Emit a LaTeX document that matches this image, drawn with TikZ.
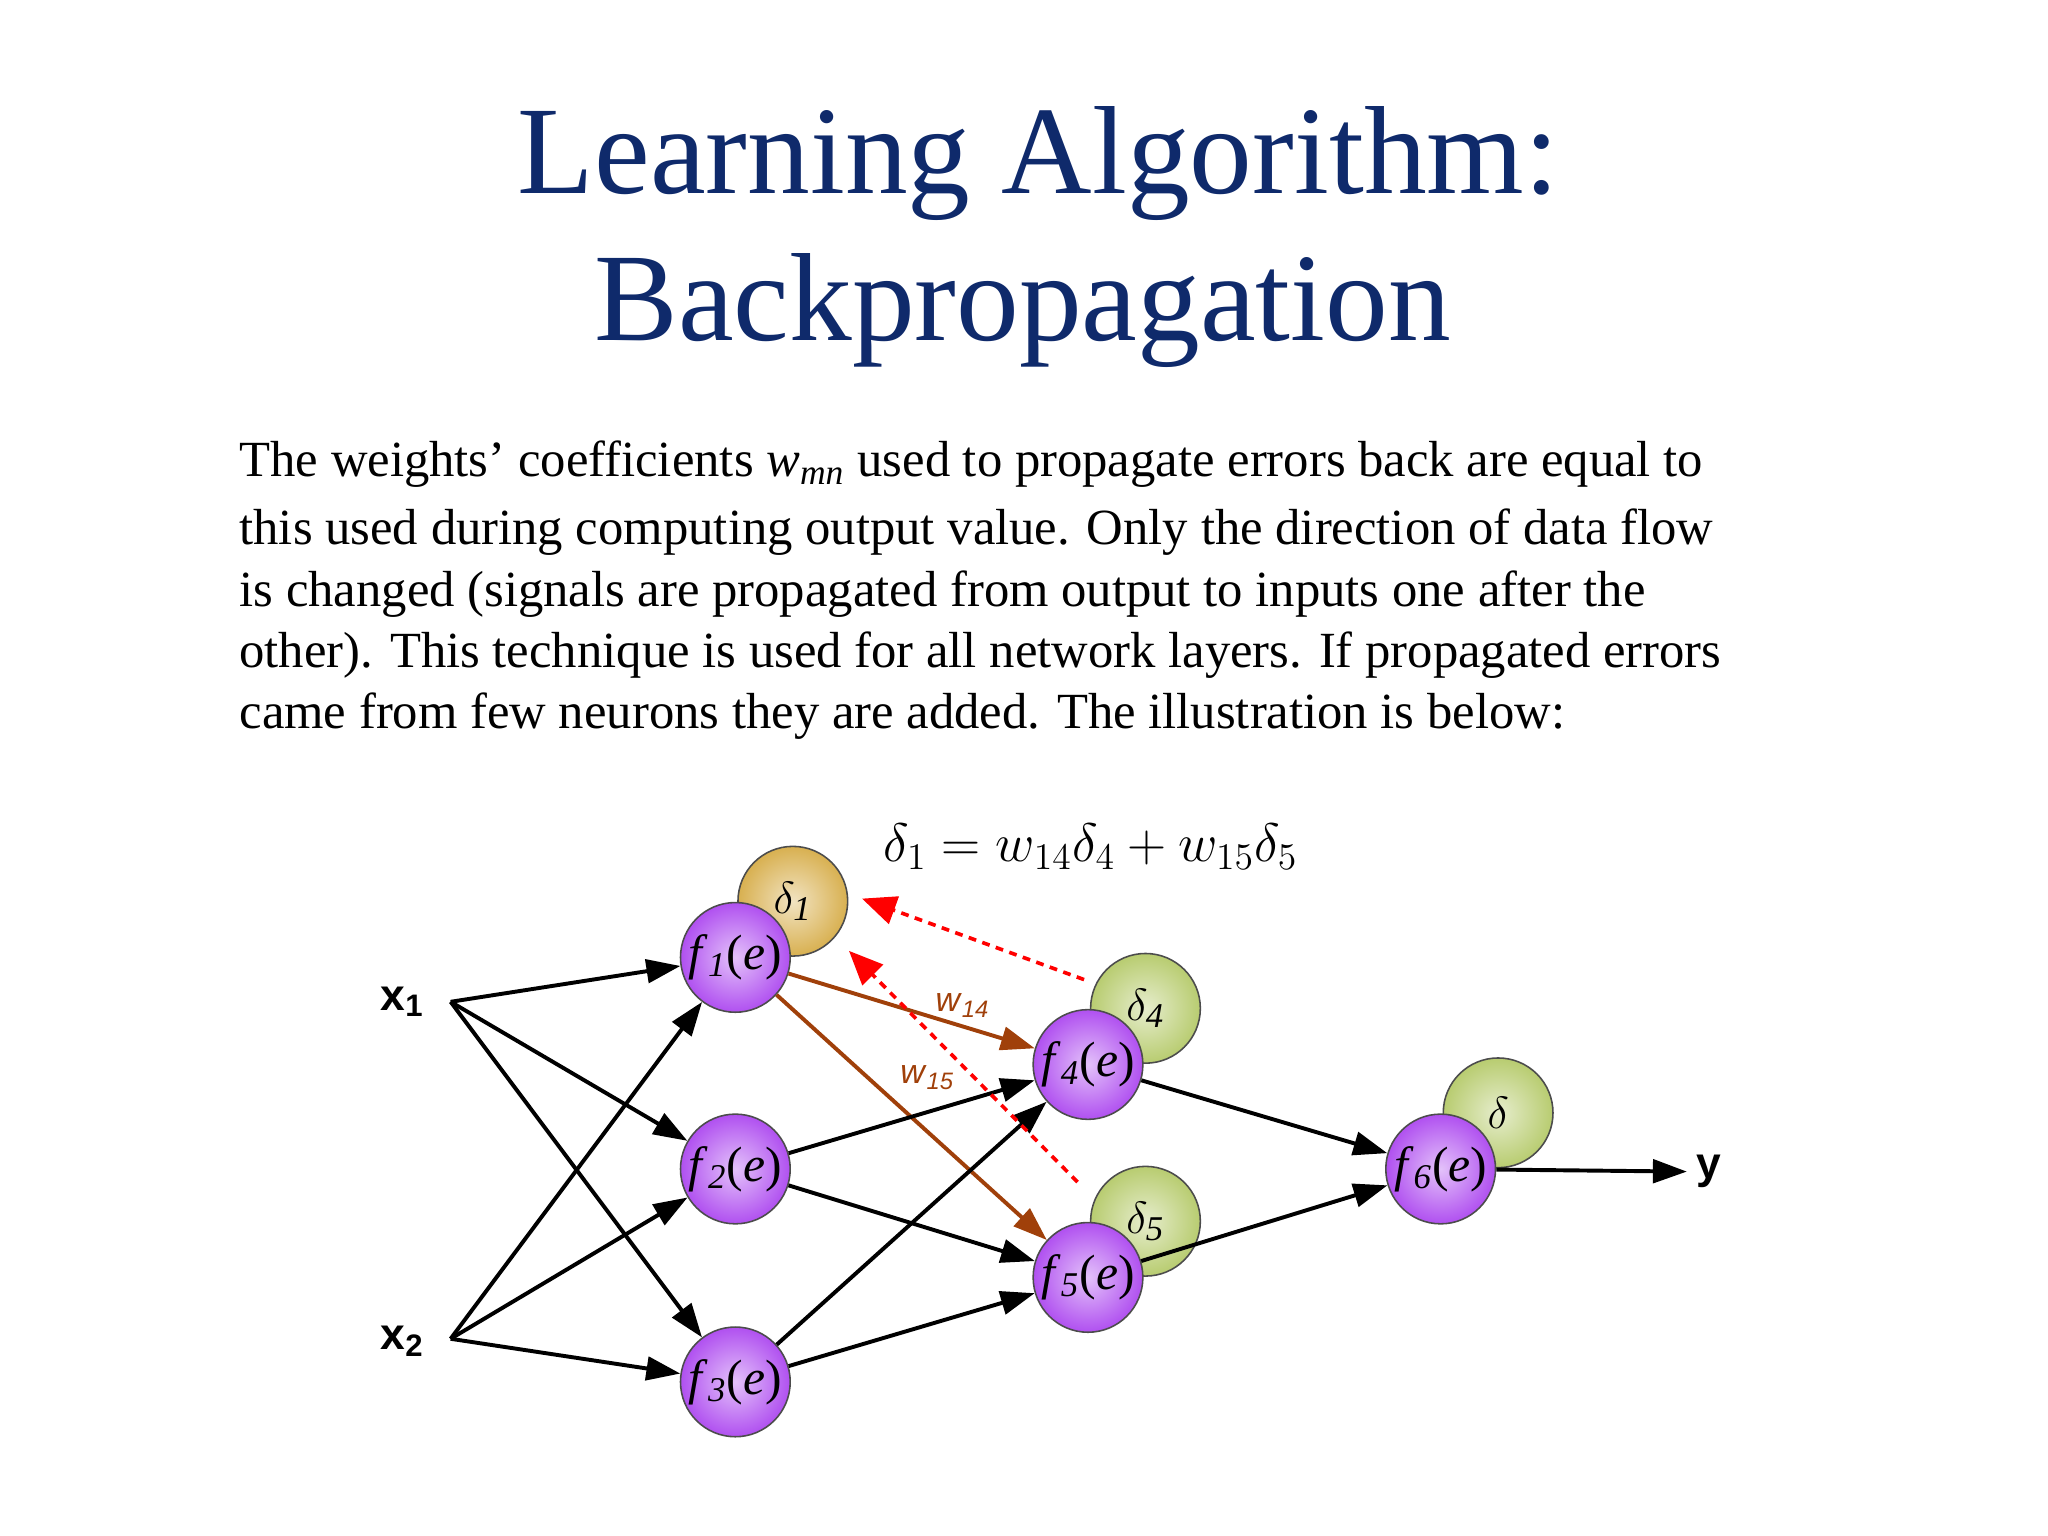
\documentclass[tikz,border=0pt]{standalone}
\usepackage{fontspec}
\setmainfont{Liberation Serif}
\setsansfont{Liberation Sans}
\usetikzlibrary{arrows.meta}
\definecolor{navy}{HTML}{0F2A6B}
\definecolor{brn}{HTML}{A0400A}
\definecolor{purp}{HTML}{B050F0}
\definecolor{gld}{HTML}{D8B050}
\definecolor{grn}{HTML}{B8CC70}
\newcommand{\fn}[1]{\textit{f}\textsubscript{\textit{#1}}(\textit{e})}
\begin{document}
\begin{tikzpicture}[x=0.5pt,y=-0.5pt,
  sph/.style={circle,minimum size=42pt,inner sep=0pt,draw=black!70,line width=0.6pt,shading=radial,outer color=#1,inner color=#1!35!white},
  neuron/.style={sph=purp,font=\fontsize{19}{19}\selectfont},
  dgold/.style={sph=gld,font=\itshape\fontsize{19}{19}\selectfont},
  dgreen/.style={sph=grn,font=\itshape\fontsize{19}{19}\selectfont},
  fw/.style={-{Triangle[length=13pt,width=9pt]},line width=1.5pt},
  bw/.style={fw,draw=brn,-{Triangle[length=13pt,width=9pt,fill=brn]}},
  rd/.style={red,line width=1.4pt,dash pattern=on 3pt off 2.5pt,-{Triangle[length=13pt,width=11pt,fill=red]}},
  inl/.style={font=\sffamily\bfseries\fontsize{17}{17}\selectfont},
  body/.style={anchor=base west,inner sep=0pt,font=\fontsize{19.4}{21}\selectfont}]
\useasboundingbox (0,0) rectangle (1568,1176);
\node[navy,font=\fontsize{48}{56}\selectfont] at (795,125) {Learning Algorithm:};
\node[navy,font=\fontsize{48}{56}\selectfont] at (783,238) {Backpropagation};
\node[body] (l1) at (183,365) {The weights' coefficients \textit{w}\textsubscript{\textit{mn}} used to propagate errors back are equal to};
\node[body] (l2) at (183,417) {this used during computing output value. Only the direction of data flow};
\node[body] (l3) at (183,464) {is changed (signals are propagated from output to inputs one after the};
\node[body] (l4) at (183,511) {other). This technique is used for all network layers. If propagated errors};
\node[body] (l5) at (183,558) {came from few neurons they are added. The illustration is below:};
\node[font=\fontsize{21}{21}\selectfont] (eq) at (835,648) {$\delta_1 = w_{14}\delta_4 + w_{15}\delta_5$};
\node[dgold] (d1) at (607,690) {$\delta_{\mathit 1}$};
\node[dgreen] (d4) at (877,772) {$\delta_{\mathit 4}$};
\node[dgreen] (d5) at (877,935) {$\delta_{\mathit 5}$};
\node[dgreen] (d6) at (1147,852) {$\delta$};
\node[neuron] (f1) at (563,733) {\fn{1}};
\node[neuron] (f2) at (563,895) {\fn{2}};
\node[neuron] (f3) at (563,1058) {\fn{3}};
\node[neuron] (f4) at (833,815) {\fn{4}};
\node[neuron] (f5) at (833,978) {\fn{5}};
\node[neuron] (f6) at (1103,895) {\fn{6}};
\node[inl] (x1) at (308,767) {x\textsubscript{1}};
\node[inl] (x2) at (308,1027) {x\textsubscript{2}};
\node[inl] (y) at (1308,897) {y};
\coordinate (x1o) at (345,767);
\coordinate (x2o) at (345,1025);
\foreach \t in {f1,f2,f3}{\draw[fw] (x1o) -- (\t); \draw[fw] (x2o) -- (\t);}
\draw[bw] (f1) -- (f4);
\draw[bw] (f1) -- (f5);
\foreach \s in {f2,f3}{\draw[fw] (\s) -- (f4); \draw[fw] (\s) -- (f5);}
\draw[fw] (f4) -- (f6);
\draw[fw] (f5) -- (f6);
\draw[fw] (f6) -- (y.west);
\coordinate (r1s) at (830,750); \coordinate (r1e) at (660,688);
\coordinate (r2s) at (825,905); \coordinate (r2e) at (650,728);
\draw[rd] (r1s) -- (r1e);
\draw[rd] (r2s) -- (r2e);
\node[brn,font=\sffamily\fontsize{13}{13}\selectfont] (w14) at (737,770) {\textit{w}\textsubscript{\textit{14}}};
\node[brn,font=\sffamily\fontsize{13}{13}\selectfont] (w15) at (710,825) {\textit{w}\textsubscript{\textit{15}}};
\end{tikzpicture}
\end{document}
